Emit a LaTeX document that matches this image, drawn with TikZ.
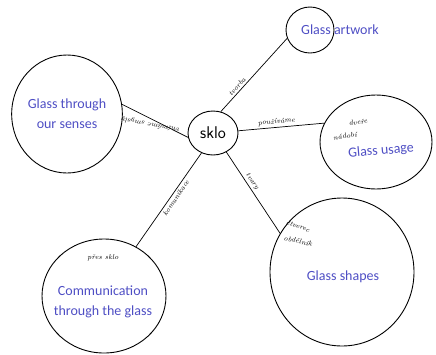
\documentclass[tikz,border=0pt]{standalone}
\usepackage{fontspec}
\newfontfamily\typed{Carlito}
\usetikzlibrary{positioning, shapes.geometric}
\definecolor{glassblue}{RGB}{78,78,196}
\tikzstyle{Link} = [
    line width=0.7pt
]

\begin{document}
\begin{tikzpicture}[
x=1pt, y=-1pt,
blob/.style={
    ellipse,
    draw,
    line width=0.9pt,
    inner sep=0pt
    },
topic/.style={
    text=glassblue,
    align=center,
    font=\typed\fontsize{14}{20}\selectfont
    },
note/.style={
    font=\itshape\fontsize{7}{8}\selectfont,
    inner sep=2pt
    }
]

\useasboundingbox (0,0) rectangle (436,354);

\node [blob, minimum width=50pt, minimum height=44pt, font=\sffamily\fontsize{17}{17}\selectfont] (0) at (213,133) {sklo};

\node [blob, minimum width=48pt, minimum height=46pt] (1) at (310,30) {};
\node [topic] (1t) at (340,30) {Glass artwork};

\node [blob, topic, minimum width=104pt, minimum height=118pt] (2) at (67,114) {Glass through\\our senses};

\node [blob, minimum width=112pt, minimum height=94pt] (3) at (376,142) {};
\node [topic, rotate=5] (3t) at (381,151) {Glass usage};
\node [note, rotate=8] (3a) at (358,122) {dveře};
\node [note, rotate=8] (3b) at (345,136) {nádobí};

\node [blob, minimum width=144pt, minimum height=148pt] (4) at (342,272) {};
\node [topic] (4t) at (343,277) {Glass shapes};
\node [note, rotate=-20] (4a) at (298,226) {čtverec};
\node [note, rotate=-12] (4b) at (298,241) {obdélník};

\node [blob, minimum width=124pt, minimum height=114pt] (5) at (104,296) {};
\node [topic] (5t) at (103,302) {Communication\\through the glass};
\node [note] (5a) at (103,258) {přes sklo};

% connectors from sklo
\draw[Link] (0.70) -- node [note, rotate=48, anchor=south, pos=0.3] {tvorba} (1.200);
\draw[Link] (0.190) -- node [note, rotate=169, anchor=south, pos=0.55] {vnímáme smysly} (2.10);
\draw[Link] (0.5) -- node [note, sloped, above, pos=0.45] {používáme} (3.160);
\draw[Link] (0.-55) -- node [note, sloped, above, pos=0.4] {tvary} (4.148);
\draw[Link] (0.-120) -- node [note, rotate=56, anchor=north, pos=0.45] {komunikace} (5.57);

\end{tikzpicture}
\end{document}
